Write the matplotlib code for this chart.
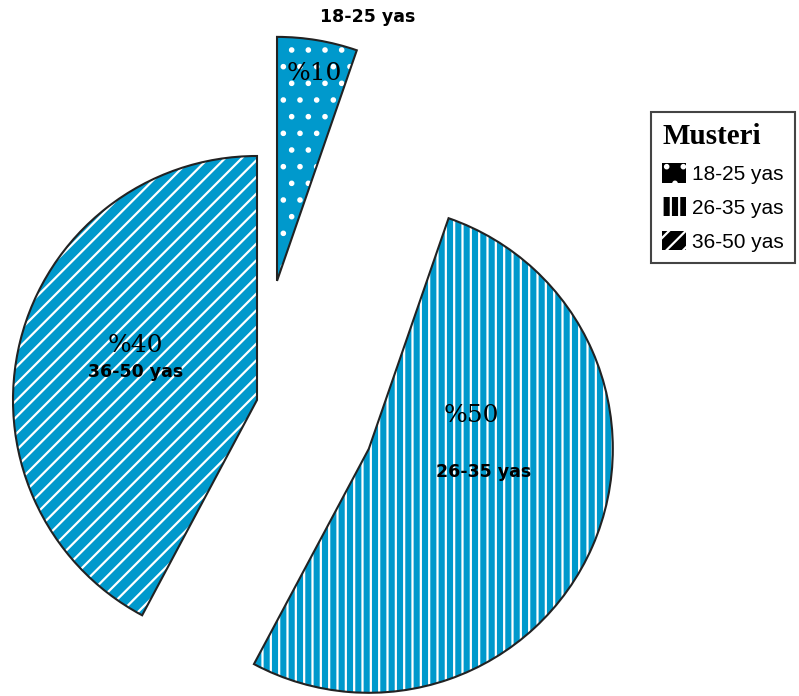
import matplotlib
matplotlib.use("Agg")
import matplotlib.pyplot as plt
from matplotlib.patches import Patch

# ---- data ----
categories = ["18-25 yas", "26-35 yas", "36-50 yas"]
pct_labels = ["%10", "%50", "%40"]
# share of the circle each slice occupies as drawn in the picture
values = [5.3, 52.5, 42.2]
legend_title = "Musteri"

# ---- style ----
blue = "#0099CC"
hatches = [".", "||", "//"]
legend_hatches = [".", "||", "//"]
W, H = 799, 696
R = 244
center = (257, H - 400)
explode = [0.495 * R, 0.5 * R, 0]

plt.rcParams["hatch.linewidth"] = 1.6

fig = plt.figure(figsize=(W / 100, H / 100), dpi=100)
ax = fig.add_axes([0, 0, 1, 1])

# filled, hatched wedges (hatch colour = edgecolor -> white)
wedges, _ = ax.pie(values, explode=explode, radius=R, center=center,
                   startangle=90, counterclock=False, frame=True,
                   colors=[blue] * 3,
                   wedgeprops=dict(edgecolor="white", linewidth=0))
for w, h in zip(wedges, hatches):
    w.set_hatch(h)
# outlines
ax.pie(values, explode=explode, radius=R, center=center,
       startangle=90, counterclock=False, frame=True,
       wedgeprops=dict(fill=False, edgecolor="#222222", linewidth=1.5))

ax.set_xlim(0, W)
ax.set_ylim(0, H)
ax.axis("off")

serif = ["DejaVu Serif"]
sans_b = ["DejaVu Sans"]
sans = ["Liberation Sans", "DejaVu Sans"]

# labels
ax.text(368, H - 17, categories[0], ha="center", va="center",
        fontsize=12.5, fontweight="bold", family=sans_b)
ax.text(314, H - 74, pct_labels[0], ha="center", va="center",
        fontsize=18, family=serif)
ax.text(471, H - 416, pct_labels[1], ha="center", va="center",
        fontsize=18, family=serif)
ax.text(484, H - 472, categories[1], ha="center", va="center",
        fontsize=12.5, fontweight="bold", family=sans_b)
ax.text(135, H - 346, pct_labels[2], ha="center", va="center",
        fontsize=18, family=serif)
ax.text(136, H - 372, categories[2], ha="center", va="center",
        fontsize=12.5, fontweight="bold", family=sans_b)

# legend
handles = [Patch(facecolor="black", edgecolor="white", linewidth=0, hatch=h)
           for h in legend_hatches]
leg = fig.legend(handles, categories, loc="upper left",
                 bbox_to_anchor=(651 / W, 1 - 112 / H),
                 borderaxespad=0, fancybox=False, framealpha=1,
                 edgecolor="#444444", title=legend_title,
                 prop=dict(family=sans, size=15),
                 title_fontproperties=dict(family=["Liberation Serif"], size=21,
                                           weight="bold"),
                 handlelength=1.15, handleheight=1.05, handletextpad=0.25,
                 labelspacing=0.62, borderpad=0.55, alignment="left")
leg.get_frame().set_linewidth(1.5)

fig.savefig("out.png", dpi=100)
